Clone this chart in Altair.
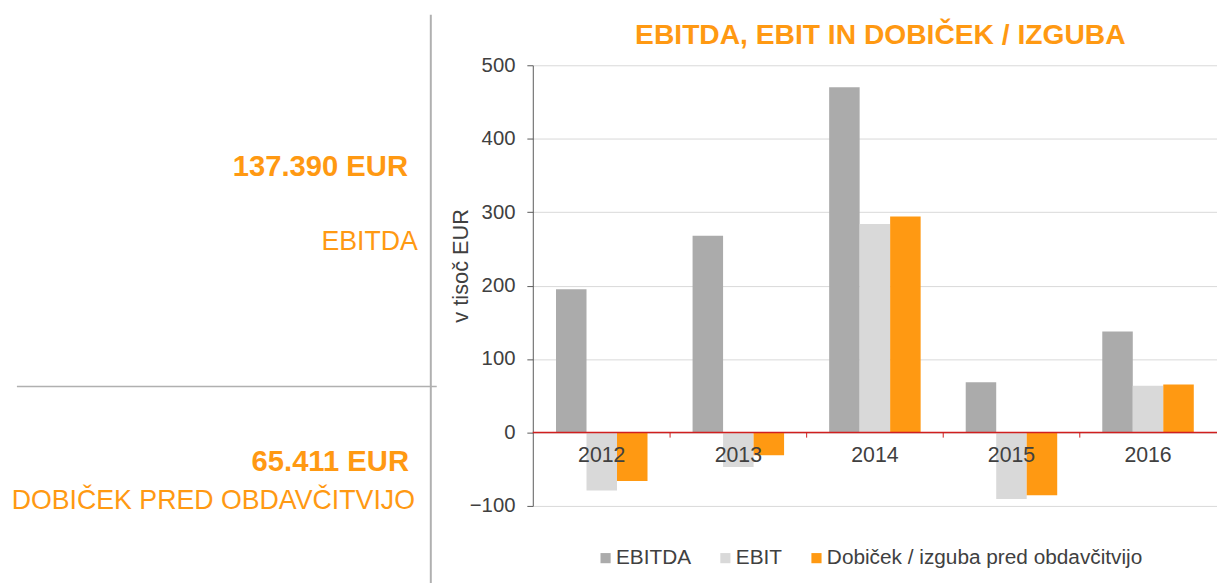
import altair as alt
import pandas as pd

years = ["2012", "2013", "2014", "2015", "2016"]
series = ["EBITDA", "EBIT", "Dobiček / izguba pred obdavčitvijo"]
ebitda = [195, 268, 470, 68.5, 137.39]
ebit = [-79, -47, 284, -90.5, 63.5]
dobicek = [-66, -31, 294, -85.5, 65.411]
colors = ["#ABABAB", "#D9D9D9", "#FF9912"]

chart_title = ["EBITDA, EBIT IN DOBIČEK / IZGUBA"]
panel_values = ["137.390 EUR", "65.411 EUR"]
panel_labels = ["EBITDA", "DOBIČEK PRED OBDAVČITVIJO"]
y_ticks = [-100, 0, 100, 200, 300, 400, 500]

rows = []
for name, vals in zip(series, [ebitda, ebit, dobicek]):
    for yr, v in zip(years, vals):
        rows.append({"leto": yr, "serija": name, "vrednost": v})
df = pd.DataFrame(rows)

FONT = "Liberation Sans"
TEXT = "#404040"
ORANGE = "#FF9912"
LINE = "#B0B0B0"
RED = "#D01F1F"

xscale = alt.Scale(domain=years, paddingInner=0.33, paddingOuter=0.17)
yscale = alt.Scale(domain=[-100, 500], nice=False, zero=False)

yaxis = alt.Axis(
    values=y_ticks,
    title="v tisoč EUR",
    titleFont=FONT,
    titleFontSize=22,
    titleFontWeight="normal",
    titleColor=TEXT,
    titleX=-73,
    titleY=202,
    titleBaseline="middle",
    labelFont=FONT,
    labelFontSize=20.5,
    labelColor=TEXT,
    labelPadding=12,
    tickSize=6,
    tickColor="#595959",
    domainColor="#595959",
    gridColor="#D9D9D9",
    grid=True,
)

bars = alt.Chart(df).mark_bar().encode(
    x=alt.X("leto:N", scale=xscale, axis=None),
    xOffset=alt.XOffset("serija:N", sort=series, scale=alt.Scale(domain=series)),
    y=alt.Y("vrednost:Q", scale=yscale, axis=yaxis),
    color=alt.Color(
        "serija:N",
        sort=series,
        scale=alt.Scale(domain=series, range=colors),
        legend=alt.Legend(
            title=None,
            orient="none",
            legendX=63,
            legendY=487,
            direction="horizontal",
            symbolType="square",
            symbolSize=105,
            symbolStrokeWidth=0,
            labelFont=FONT,
            labelFontSize=21,
            labelColor=TEXT,
            labelOffset=0,
            labelLimit=0,
            columnPadding=24,
        ),
    ),
)

zero_df = pd.DataFrame({"vrednost": [0]})
zero_line = alt.Chart(zero_df).mark_rule(color=RED, strokeWidth=1.5).encode(
    y=alt.Y("vrednost:Q", scale=yscale, axis=yaxis)
)

tick_df = pd.DataFrame({"leto": years[:-1], "vrednost": [0] * 4, "b": [-7] * 4})
band_ticks = alt.Chart(tick_df).mark_rule(color=RED, strokeWidth=1, xOffset=22.8).encode(
    x=alt.X("leto:N", scale=xscale, axis=None, bandPosition=1),
    y=alt.Y("vrednost:Q", scale=yscale, axis=yaxis),
    y2="b:Q",
)

lab_df = pd.DataFrame({"leto": years, "vrednost": [0] * len(years)})
year_labels = alt.Chart(lab_df).mark_text(
    dy=24, fontSize=21.5, font=FONT, color=TEXT, baseline="middle"
).encode(
    x=alt.X("leto:N", scale=xscale, axis=None),
    y=alt.Y("vrednost:Q", scale=yscale, axis=yaxis),
    text="leto:N",
)

title_mark = alt.Chart(pd.DataFrame({"t": chart_title})).mark_text(
    font=FONT, fontSize=28.5, fontWeight="bold", color=ORANGE, align="center", baseline="alphabetic"
).encode(x=alt.value(351), y=alt.value(-22), text="t:N")

# left panel
vline = alt.Chart(zero_df).mark_rule(color=LINE, strokeWidth=2).encode(
    x=alt.value(-103), y=alt.value(-51), y2=alt.value(530)
)
hline = alt.Chart(zero_df).mark_rule(color=LINE, strokeWidth=1.5).encode(
    x=alt.value(-521), x2=alt.value(-97), y=alt.value(324.5)
)

val1 = alt.Chart(pd.DataFrame({"t": [panel_values[0]]})).mark_text(
    font=FONT, fontSize=29.5, fontWeight="bold", color=ORANGE, align="right", baseline="alphabetic"
).encode(x=alt.value(-126), y=alt.value(111.5), text="t:N")
lab1 = alt.Chart(pd.DataFrame({"t": [panel_labels[0]]})).mark_text(
    font=FONT, fontSize=27, color=ORANGE, align="right", baseline="alphabetic"
).encode(x=alt.value(-116), y=alt.value(186.5), text="t:N")
val2 = alt.Chart(pd.DataFrame({"t": [panel_values[1]]})).mark_text(
    font=FONT, fontSize=29.5, fontWeight="bold", color=ORANGE, align="right", baseline="alphabetic"
).encode(x=alt.value(-125), y=alt.value(409.5), text="t:N")
lab2 = alt.Chart(pd.DataFrame({"t": [panel_labels[1]]})).mark_text(
    font=FONT, fontSize=27, color=ORANGE, align="right", baseline="alphabetic"
).encode(x=alt.value(-119), y=alt.value(448.5), text="t:N")

chart = alt.layer(
    bars, zero_line, band_ticks, year_labels, title_mark, vline, hline, val1, lab1, val2, lab2
).properties(
    width=691,
    height=445,
    autosize=alt.AutoSizeParams(type="none"),
    padding={"left": 530, "top": 55, "right": 0, "bottom": 75},
).configure(background="white").configure_view(stroke=None)

chart.save("out.html", embed_options={"renderer": "svg", "actions": False})
